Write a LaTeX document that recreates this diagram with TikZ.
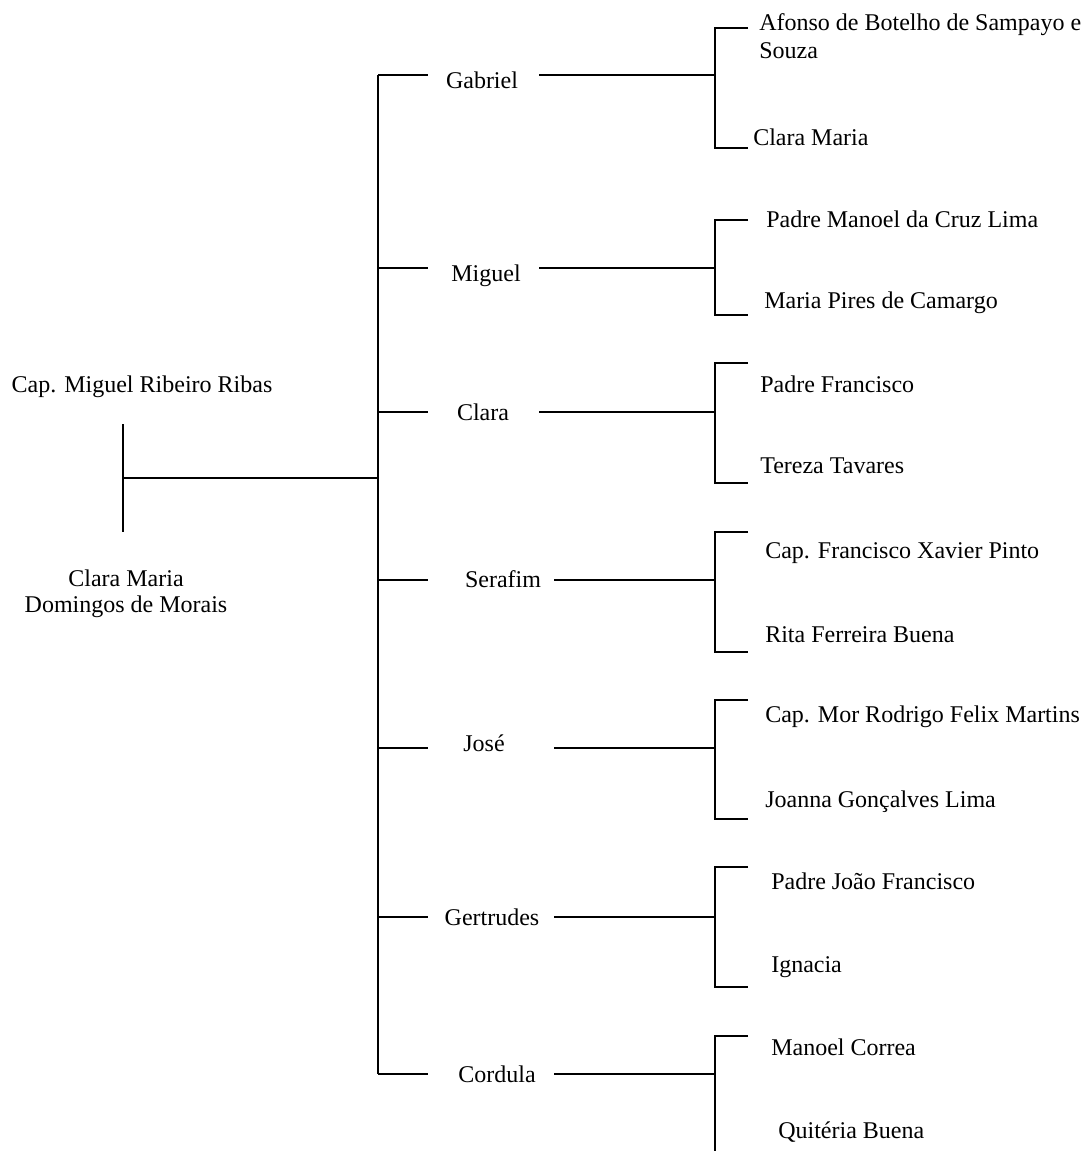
\documentclass[tikz,border=0pt]{standalone}
\usepackage{fontspec}
\setmainfont{Liberation Serif}
\tikzset{
  nome/.style={font=\fontsize{12}{13}\selectfont, inner sep=0pt, anchor=base},
  filho/.style={nome, anchor=base west},
  ramo/.style={line width=1.25pt}
}
\begin{document}
\begin{tikzpicture}[x=0.5pt,y=-0.5pt,ramo]
   \useasboundingbox (0,0) rectangle (1081,1151);
   % casal
   \node[nome] (pai) at (142,392) {Cap. Miguel Ribeiro Ribas};
   \node[nome, align=center] (mae) at (126,612) {Clara Maria\\Domingos de Morais};
   \coordinate (casalA) at (123,424);
   \coordinate (casalB) at (123,532);
   \coordinate (casal) at (123,478);
   \coordinate (tronco) at (378,478);
   \draw (casalA) -- (casalB);
   \draw (casal) -- (tronco);
   % tronco dos filhos
   \coordinate (tGab) at (378,75);
   \coordinate (tMig) at (378,268);
   \coordinate (tCla) at (378,412);
   \coordinate (tSer) at (378,580);
   \coordinate (tJos) at (378,748);
   \coordinate (tGer) at (378,917);
   \coordinate (tCor) at (378,1074);
   \draw (tGab) -- (tCor);
   \foreach \t in {tGab,tMig,tCla,tSer,tJos,tGer,tCor}
     \draw (\t) -- ++(50,0);
   % Gabriel
   \node[nome] (gabriel) at (482,88) {Gabriel};
   \coordinate (jGab) at (715,75);
   \draw (539,75) -- (jGab);
   \coordinate (aGab) at (748,28);
   \coordinate (bGab) at (748,148);
   \draw (aGab) -| (jGab) |- (bGab);
   \node[filho, align=left, font=\fontsize{12}{14}\selectfont] (afonso) at (758,58) {Afonso de Botelho de Sampayo e\\Souza};
   \node[filho] (claraM) at (752,145) {Clara Maria};
   % Miguel
   \node[nome] (miguel) at (486,281) {Miguel};
   \coordinate (jMig) at (715,268);
   \draw (539,268) -- (jMig);
   \coordinate (aMig) at (748,220);
   \coordinate (bMig) at (748,315);
   \draw (aMig) -| (jMig) |- (bMig);
   \node[filho] (manoel) at (765,227) {Padre Manoel da Cruz Lima};
   \node[filho] (mariaP) at (763,308) {Maria Pires de Camargo};
   % Clara
   \node[nome] (clara) at (483,420) {Clara};
   \coordinate (jCla) at (715,412);
   \draw (539,412) -- (jCla);
   \coordinate (aCla) at (748,363);
   \coordinate (bCla) at (748,483);
   \draw (aCla) -| (jCla) |- (bCla);
   \node[filho] (padreF) at (759,392) {Padre Francisco};
   \node[filho] (tereza) at (759,473) {Tereza Tavares};
   % Serafim
   \node[nome] (serafim) at (503,587) {Serafim};
   \coordinate (jSer) at (715,580);
   \draw (554,580) -- (jSer);
   \coordinate (aSer) at (748,532);
   \coordinate (bSer) at (748,652);
   \draw (aSer) -| (jSer) |- (bSer);
   \node[filho] (xavier) at (764,558) {Cap. Francisco Xavier Pinto};
   \node[filho] (rita) at (764,642) {Rita Ferreira Buena};
   % José
   \node[nome] (jose) at (484,751) {José};
   \coordinate (jJos) at (715,748);
   \draw (554,748) -- (jJos);
   \coordinate (aJos) at (748,700);
   \coordinate (bJos) at (748,819);
   \draw (aJos) -| (jJos) |- (bJos);
   \node[filho] (rodrigo) at (764,722) {Cap. Mor Rodrigo Felix Martins};
   \node[filho] (joanna) at (764,807) {Joanna Gonçalves Lima};
   % Gertrudes
   \node[nome] (gertrudes) at (492,925) {Gertrudes};
   \coordinate (jGer) at (715,917);
   \draw (554,917) -- (jGer);
   \coordinate (aGer) at (748,867);
   \coordinate (bGer) at (748,987);
   \draw (aGer) -| (jGer) |- (bGer);
   \node[filho] (joao) at (770,889) {Padre João Francisco};
   \node[filho] (ignacia) at (770,972) {Ignacia};
   % Cordula
   \node[nome] (cordula) at (497,1082) {Cordula};
   \coordinate (jCor) at (715,1074);
   \draw (554,1074) -- (jCor);
   \coordinate (aCor) at (748,1036);
   \coordinate (bCor) at (715,1151);
   \draw (aCor) -| (jCor) -- (bCor);
   \node[filho] (correa) at (770,1055) {Manoel Correa};
   \node[filho] (quiteria) at (777,1138) {Quitéria Buena};
\end{tikzpicture}
\end{document}
